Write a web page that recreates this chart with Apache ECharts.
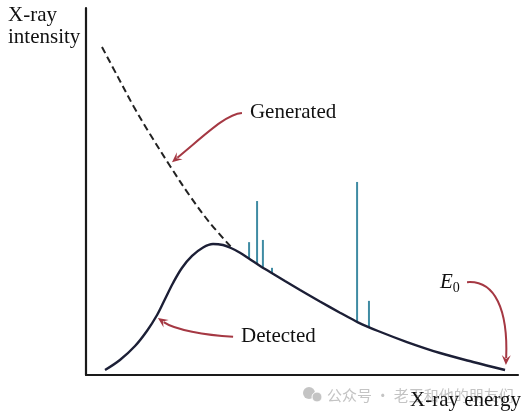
<!DOCTYPE html>
<html>
<head>
<meta charset="utf-8">
<script src="https://cdn.jsdelivr.net/npm/echarts@6/dist/echarts.min.js"></script>
<style>
html,body{margin:0;padding:0;background:#fff;}
#c{width:526px;height:416px;}
</style>
</head>
<body>
<div id="c"></div>
<script>
// ---- data (energy in arbitrary units 0..20, intensity 0..100) ----
const generatedX = [0.74, 1.48, 2.22, 2.96, 3.89, 4.81, 5.74, 6.81];
const generatedY = [89.37, 81.17, 73.02, 65.67, 56.95, 48.77, 41.42, 34.28];

const detectedX = [0.88, 1.57, 2.27, 2.82, 3.29, 3.66, 4.03, 4.44, 4.91, 5.42, 5.88, 6.34, 6.71, 7.13, 7.59, 8.06, 8.52, 9.21, 9.91, 10.83, 11.76, 12.59, 13.52, 14.86, 16.39, 17.92, 19.40];
const detectedY = [1.36, 4.09, 7.90, 11.99, 16.35, 20.71, 25.07, 29.16, 32.43, 34.74, 35.69, 35.42, 34.60, 33.32, 31.53, 29.70, 28.07, 25.61, 23.16, 20.03, 16.98, 14.36, 11.99, 8.99, 5.99, 3.54, 1.36];

const lineEnergy = [7.55, 7.92, 8.19, 8.61, 12.55, 13.10];
const lineBase   = [31.72, 30.25, 29.20, 27.74, 14.50, 12.90];
const lineTop    = [36.2, 47.4, 36.8, 29.2, 52.6, 20.2];

// annotation arrows: [x,y] start, cp1, cp2, end (data units)
const arrowGenerated = [[7.22, 71.4], [6.48, 71.1], [5.51, 65.4], [3.98, 58.0]];
const arrowDetected  = [[6.81, 10.4], [5.51, 10.9], [4.12, 12.3], [3.33, 15.5]];
const arrowE0        = [[17.64, 25.3], [18.94, 25.9], [19.54, 17.7], [19.44, 2.7]];

const labelGenerated = [7.59, 71.4];
const labelDetected  = [7.18, 10.4];
const labelE0        = [16.39, 25.1];

const zip = (a, b) => a.map((v, i) => [v, b[i]]);

const chart = echarts.init(document.getElementById('c'), null, {renderer: 'canvas'});
const SERIF = '"Liberation Serif", "DejaVu Serif", serif';
const ARROW = '#a53843';

chart.setOption({
  animation: false,
  backgroundColor: '#ffffff',
  grid: {left: 86, right: 8, top: 8, bottom: 41},
  xAxis: {
    type: 'value', min: 0, max: 20,
    axisLine: {show: true, onZero: false, lineStyle: {color: '#1a1a1a', width: 2.2}},
    axisTick: {show: false}, axisLabel: {show: false}, splitLine: {show: false}
  },
  yAxis: {
    type: 'value', min: 0, max: 100,
    axisLine: {show: true, onZero: false, lineStyle: {color: '#1a1a1a', width: 2.2}},
    axisTick: {show: false}, axisLabel: {show: false}, splitLine: {show: false}
  },
  series: [
    {
      name: 'Generated', type: 'line', data: zip(generatedX, generatedY),
      smooth: 0.35, symbol: 'none',
      lineStyle: {color: '#222', width: 2, type: [7, 4]}
    },
    {
      name: 'Detected', type: 'line', data: zip(detectedX, detectedY),
      smooth: 0.35, symbol: 'none',
      lineStyle: {color: '#1c1f36', width: 2.4}
    },
    {
      name: 'Lines', type: 'custom',
      data: lineEnergy.map((e, i) => [e, lineBase[i], lineTop[i]]),
      renderItem: function (params, api) {
        const p0 = api.coord([api.value(0), api.value(1)]);
        const p1 = api.coord([api.value(0), api.value(2)]);
        return {
          type: 'line',
          shape: {x1: p0[0], y1: p0[1], x2: p1[0], y2: p1[1]},
          style: {stroke: '#3f8ba3', lineWidth: 2}
        };
      },
      z: 1
    }
  ]
});

function px(p) { return chart.convertToPixel({gridIndex: 0}, p); }

function arrow(pts) {
  const [s, c1, c2, e] = pts.map(px);
  const dx = e[0] - c2[0], dy = e[1] - c2[1];
  const L = Math.hypot(dx, dy) || 1;
  const ux = dx / L, uy = dy / L;
  const len = 10, hw = 4.5;
  const bx = e[0] - ux * len, by = e[1] - uy * len;
  return [
    {
      type: 'bezierCurve',
      shape: {x1: s[0], y1: s[1], cpx1: c1[0], cpy1: c1[1], cpx2: c2[0], cpy2: c2[1], x2: bx + ux * 3, y2: by + uy * 3},
      style: {stroke: ARROW, lineWidth: 2, fill: null}
    },
    {
      type: 'polygon',
      shape: {points: [[e[0], e[1]], [bx - uy * hw, by + ux * hw], [e[0] - ux * len * 0.6, e[1] - uy * len * 0.6], [bx + uy * hw, by - ux * hw]]},
      style: {fill: ARROW}
    }
  ];
}

const lg = px(labelGenerated), ld = px(labelDetected), le = px(labelE0);

chart.setOption({
  graphic: [
    {type: 'text', left: 8, top: 5, style: {text: 'X-ray', font: '21px ' + SERIF, fill: '#111'}},
    {type: 'text', left: 8, top: 27, style: {text: 'intensity', font: '21px ' + SERIF, fill: '#111'}},
    {type: 'text', x: 327, y: 395, style: {text: '公众号 · 老王和他的朋友们', font: '15px "Noto Sans CJK SC"', fill: '#c4c4c4', verticalAlign: 'middle'}},
    {type: 'circle', shape: {cx: 309, cy: 393, r: 6}, style: {fill: '#c4c4c4'}},
    {type: 'circle', shape: {cx: 317, cy: 397, r: 5}, style: {fill: '#c4c4c4', stroke: '#fff', lineWidth: 1}},
    {type: 'text', right: 5, top: 390, style: {text: 'X-ray energy', font: '21px ' + SERIF, fill: '#111'}},
    {type: 'text', x: lg[0], y: lg[1], style: {text: 'Generated', font: '21px ' + SERIF, fill: '#111', verticalAlign: 'middle'}},
    {type: 'text', x: ld[0], y: ld[1], style: {text: 'Detected', font: '21px ' + SERIF, fill: '#111', verticalAlign: 'middle'}},
    {type: 'text', x: le[0], y: le[1], style: {
      text: '{e|E}{s|0}', verticalAlign: 'middle',
      rich: {
        e: {font: 'italic 21px ' + SERIF, fill: '#111'},
        s: {font: '14px ' + SERIF, fill: '#111', padding: [10, 0, 0, 0]}
      }
    }},
    ...arrow(arrowGenerated),
    ...arrow(arrowDetected),
    ...arrow(arrowE0)
  ]
});
</script>
</body>
</html>
